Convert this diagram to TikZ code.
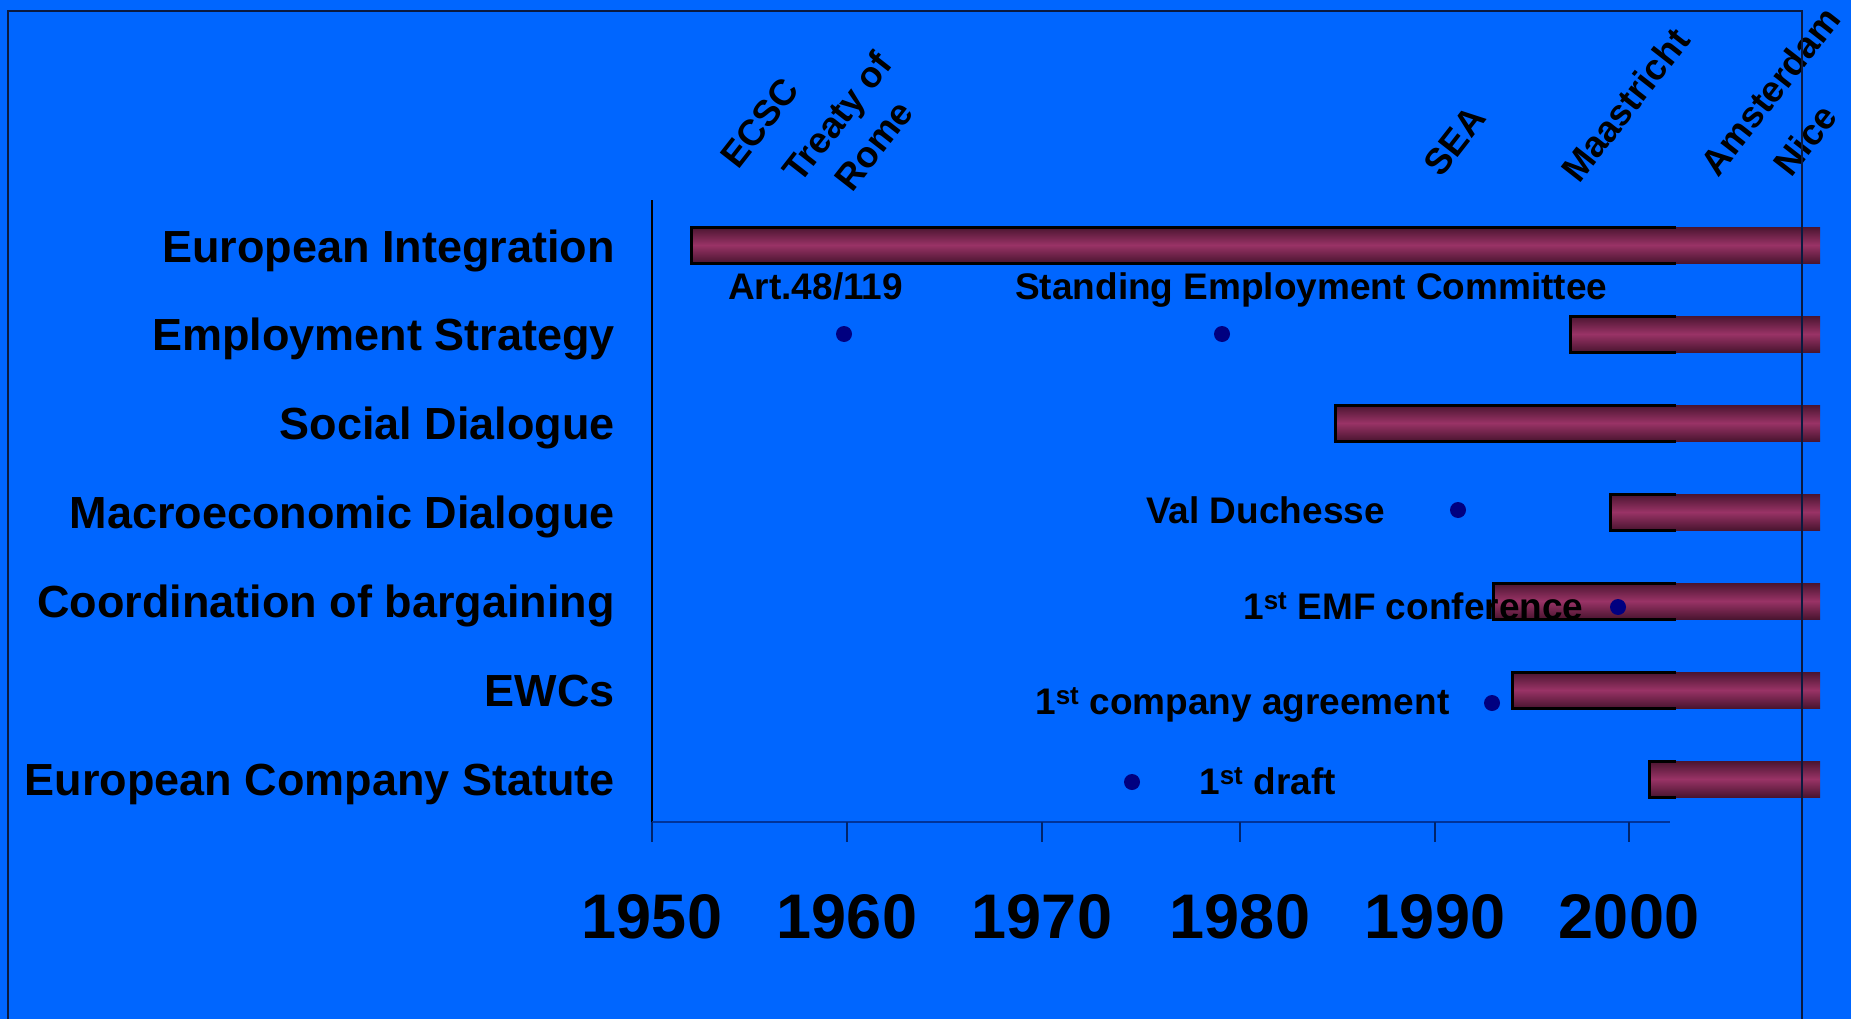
\documentclass[tikz,border=0pt]{standalone}
\usepackage{fontspec}
\setmainfont{Liberation Sans}
\definecolor{bg}{HTML}{0066FF}
\definecolor{barmid}{HTML}{993366}
\definecolor{bardark}{HTML}{4A1530}
\definecolor{dotc}{HTML}{000080}
\definecolor{axisblue}{HTML}{003399}
\definecolor{framec}{HTML}{0A1A40}
\begin{document}
\begin{tikzpicture}[x=1pt,y=-1pt,
  rowlab/.style={anchor=base east, inner sep=0pt, text=black, font=\fontsize{45}{54}\selectfont\bfseries},
  evlab/.style={anchor=base west, inner sep=0pt, text=black, font=\fontsize{37}{44}\selectfont\bfseries},
  yearlab/.style={anchor=base, inner sep=0pt, text=black, font=\fontsize{63}{75}\selectfont\bfseries},
  treatylab/.style={rotate=52, inner sep=0pt, text=black, align=center, font=\fontsize{36.5}{46}\selectfont\bfseries},
  barfill/.style={top color=bardark, bottom color=bardark, middle color=barmid},
  barline/.style={draw=black, line width=3pt},
  evdot/.style={circle, fill=dotc, inner sep=0pt, minimum size=16pt},
  axisline/.style={draw=black, line width=1.5pt},
  haxis/.style={draw=axisblue, line width=2.5pt},
  tickline/.style={draw=axisblue!70!black, line width=1.5pt},
  frameline/.style={draw=framec, line width=2pt}]
\useasboundingbox (0,0) rectangle (1851,1019);
\fill[bg] (0,0) rectangle (1851,1019);

% bars
\foreach \xs/\yc in {691/245, 1570/334, 1335/423, 1610/512, 1493/601, 1512/690, 1649/779}{
  \path[barfill] (\xs,\yc-18) rectangle (1820,\yc+18);
  \draw[barline] (1676,\yc-18) -- (\xs,\yc-18) -- (\xs,\yc+18) -- (1676,\yc+18);
}

% axes
\draw[axisline] (652,200) -- (652,842);
\draw[haxis] (652,822) -- (1670,822);
\foreach \tx in {652,847,1042,1240,1435,1629}{
  \draw[tickline] (\tx,822) -- (\tx,842);
}

% row labels
\node[rowlab] (r1) at (615,262) {European Integration};
\node[rowlab] (r2) at (615,350) {Employment Strategy};
\node[rowlab] (r3) at (615,439) {Social Dialogue};
\node[rowlab] (r4) at (615,528) {Macroeconomic Dialogue};
\node[rowlab] (r5) at (615,617) {Coordination of bargaining};
\node[rowlab] (r6) at (615,706) {EWCs};
\node[rowlab] (r7) at (615,795) {European Company Statute};

% year labels
\node[yearlab] (y1950) at (652,938) {1950};
\node[yearlab] (y1960) at (847,938) {1960};
\node[yearlab] (y1970) at (1042,938) {1970};
\node[yearlab] (y1980) at (1240,938) {1980};
\node[yearlab] (y1990) at (1435,938) {1990};
\node[yearlab] (y2000) at (1629,938) {2000};

% treaty labels
\node[treatylab] (ecsc) at (760,123) {ECSC};
\node[treatylab] (rome) at (855,131) {Treaty of\\Rome};
\node[treatylab] (sea) at (1455,141) {SEA};
\node[treatylab] (maas) at (1625,105) {Maastricht};
\node[treatylab] (amst) at (1770,91) {Amsterdam};
\node[treatylab] (nice) at (1805,140) {Nice};

% event dots
\node[evdot] (d1) at (844,334) {};
\node[evdot] (d2) at (1222,334) {};
\node[evdot] (d3) at (1458,510) {};
\node[evdot] (d4) at (1618,607) {};
\node[evdot] (d5) at (1492,703) {};
\node[evdot] (d6) at (1132,782) {};

% event labels
\node[evlab] (e1) at (728,299) {Art.48/119};
\node[evlab] (e2) at (1015,299) {Standing Employment Committee};
\node[evlab] (e3) at (1146,523) {Val Duchesse};
\node[evlab] (e4) at (1243,619) {1\textsuperscript{st} EMF conference};
\node[evlab] (e5) at (1035,714) {1\textsuperscript{st} company agreement};
\node[evlab] (e6) at (1199,794) {1\textsuperscript{st} draft};

% frame
\draw[frameline] (8,1025) -- (8,11) -- (1802,11) -- (1802,1025);
\end{tikzpicture}
\end{document}
